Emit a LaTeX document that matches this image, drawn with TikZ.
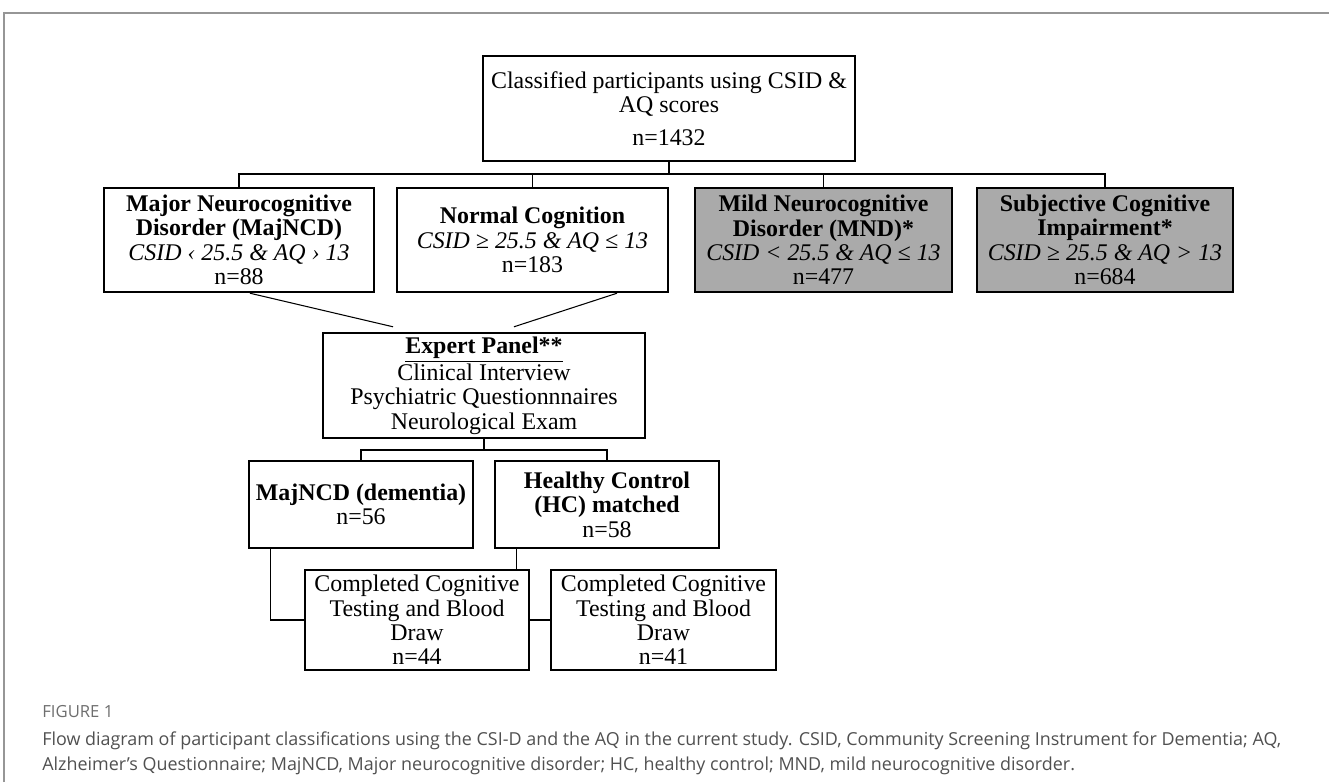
\documentclass[tikz,border=0pt]{standalone}
\usepackage{fontspec}
\setmainfont{Liberation Serif}
\newfontfamily\capfont{Open Sans}
\definecolor{boxgray}{RGB}{170,170,170}
\definecolor{capgray}{RGB}{80,80,80}
\definecolor{labelgray}{RGB}{110,110,110}
\definecolor{framegray}{RGB}{150,150,150}
\tikzset{
  box/.style={draw, line width=1.4pt, fill=white, inner sep=0pt, align=center,
    font=\fontsize{13.6}{13.9}\selectfont},
  tightbox/.style={box, minimum height=2.08cm},
  shaded/.style={fill=boxgray},
  link/.style={line width=0.6pt}
}
\begin{document}
\begin{tikzpicture}[x=0.02cm,y=-0.02cm]
  \useasboundingbox (0,0) rectangle (1329,782);
  \draw[framegray, line width=1pt] (4,782) -- (4,13) -- (1329,13);% frame

  \node[box, minimum width=7.44cm, minimum height=2.10cm] (classified) at (669,108.5)
    {Classified participants using CSID \&\\AQ scores\\[0.16cm]n=1432};

  \node[tightbox, minimum width=5.40cm] (majncd) at (239,240)
    {\textbf{Major Neurocognitive}\\\textbf{Disorder (MajNCD)}\\\textit{CSID ‹ 25.5 \& AQ › 13}\\n=88};
  \node[tightbox, minimum width=5.42cm] (normal) at (532.5,240)
    {\textbf{Normal Cognition}\\\textit{CSID ≥ 25.5 \& AQ ≤ 13}\\n=183};
  \node[tightbox, shaded, minimum width=5.14cm] (mnd) at (823.5,240)
    {\textbf{Mild Neurocognitive}\\\textbf{Disorder (MND)*}\\\textit{CSID < 25.5 \& AQ ≤ 13}\\n=477};
  \node[tightbox, shaded, minimum width=5.12cm] (sci) at (1105,240)
    {\textbf{Subjective Cognitive}\\\textbf{Impairment*}\\\textit{CSID ≥ 25.5 \& AQ > 13}\\n=684};

  \coordinate (top bus) at (669,174);
  \draw[link] (classified.south) -- (top bus);
  \draw[link] (majncd.north) |- (top bus) -| (sci.north);
  \draw[link] (normal.north) -- (normal.north |- top bus);
  \draw[link] (mnd.north) -- (mnd.north |- top bus);

  \node[box, minimum width=6.44cm, minimum height=2.10cm] (panel) at (484,385.5)
    {\underline{\textbf{Expert Panel**}}\\Clinical Interview\\Psychiatric Questionnnaires\\Neurological Exam};
  \draw[link] ([xshift=0.22cm]majncd.south) -- ([xshift=-1.82cm,yshift=0.1cm]panel.north);
  \draw[link] ([xshift=1.69cm]normal.south) -- ([xshift=0.60cm,yshift=0.1cm]panel.north);

  \node[box, minimum width=4.48cm, minimum height=1.74cm] (dementia) at (361,504.5)
    {\textbf{MajNCD (dementia)}\\n=56};
  \node[box, minimum width=4.48cm, minimum height=1.74cm] (hc) at (607,504.5)
    {\textbf{Healthy Control}\\\textbf{(HC) matched}\\n=58};

  \coordinate (mid bus) at (484,450);
  \draw[link] (panel.south) -- (mid bus);
  \draw[link] (dementia.north) |- (mid bus) -| (hc.north);

  \node[box, minimum width=4.50cm, minimum height=2.00cm] (testhc) at (663.5,620)
    {Completed Cognitive\\Testing and Blood\\Draw\\n=41};
  \draw[link] ([xshift=0.46cm]hc.south west) |- (testhc.west);% runs behind testdem

  \node[box, minimum width=4.48cm, minimum height=2.00cm] (testdem) at (417,620)
    {Completed Cognitive\\Testing and Blood\\Draw\\n=44};
  \draw[link] ([xshift=0.46cm]dementia.south west) |- (testdem.west);

  % caption
  \node[anchor=west, inner sep=0pt, text=labelgray, font=\capfont\fontsize{9.5}{11}\selectfont] (figlabel) at (42,712) {FIGURE 1};
  \node[anchor=north west, inner sep=0pt, align=left, text=capgray, font=\capfont\fontsize{10.2}{14.7}\selectfont] (caption) at (42,731)
    {Flow diagram of participant classifications using the CSI-D and the AQ in the current study. CSID, Community Screening Instrument for Dementia; AQ,\\
     Alzheimer’s Questionnaire; MajNCD, Major neurocognitive disorder; HC, healthy control; MND, mild neurocognitive disorder.};
\end{tikzpicture}
\end{document}
